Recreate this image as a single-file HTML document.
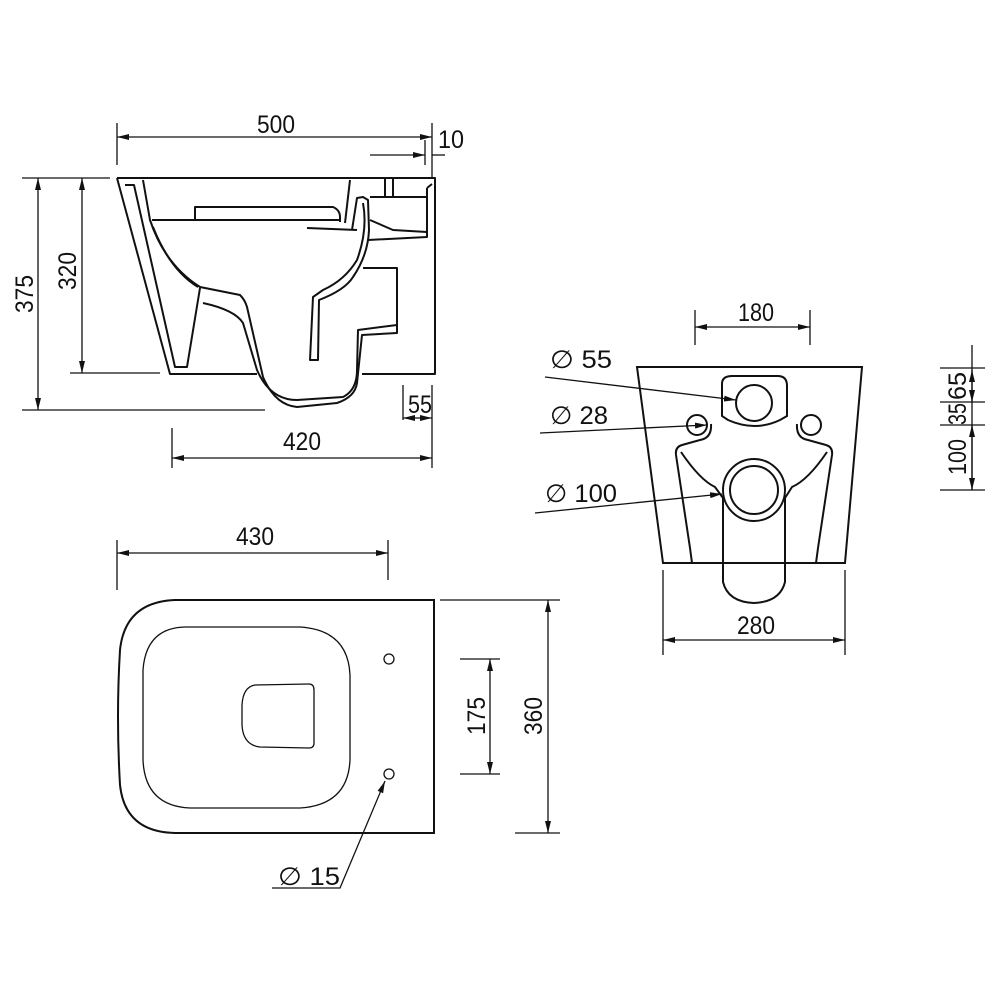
<!DOCTYPE html>
<html><head><meta charset="utf-8"><style>body{margin:0;background:#fff}svg{display:block}text{font-family:"Liberation Sans",sans-serif;font-size:25px;fill:#111}</style></head><body>
<svg width="1000" height="1000" viewBox="0 0 1000 1000" xmlns="http://www.w3.org/2000/svg">
<defs><marker id="a" markerWidth="12" markerHeight="6" refX="12" refY="3" orient="auto-start-reverse" markerUnits="userSpaceOnUse"><path d="M0,0L12,3L0,6z" fill="#111"/></marker></defs>
<g fill="none" stroke="#111" stroke-width="1.3">
<!-- side view dims -->
<line x1="117" y1="123" x2="117" y2="165"/><line x1="432" y1="123" x2="432" y2="178"/><line x1="425" y1="140" x2="425" y2="165"/>
<line x1="117" y1="137" x2="432" y2="137" marker-start="url(#a)" marker-end="url(#a)"/>
<line x1="370" y1="155" x2="425" y2="155" marker-end="url(#a)"/><line x1="445" y1="155" x2="432" y2="155"/>
<line x1="22" y1="178" x2="110" y2="178"/><line x1="22" y1="410" x2="265" y2="410"/><line x1="70" y1="373" x2="160" y2="373"/>
<line x1="38" y1="178" x2="38" y2="410" marker-start="url(#a)" marker-end="url(#a)"/>
<line x1="82" y1="178" x2="82" y2="373" marker-start="url(#a)" marker-end="url(#a)"/>
<line x1="172" y1="428" x2="172" y2="468"/><line x1="432" y1="385" x2="432" y2="468"/><line x1="403" y1="385" x2="403" y2="420"/>
<line x1="172" y1="458" x2="432" y2="458" marker-start="url(#a)" marker-end="url(#a)"/>
<line x1="403" y1="418" x2="432" y2="418" marker-start="url(#a)" marker-end="url(#a)"/>
<!-- side view body -->
<g stroke-width="2" stroke-linejoin="round">
<path d="M117,178 L435,178 L435,374 L362,374"/><path d="M257,374 L170,374 L117,178"/>
<path d="M125,185 L134,185 L175,367 L187,367 L200,288"/>
<path d="M143,180 L150,220 Q165,265 200,287 L240,295 Q245,300 247,307 L263,377 Q275,405 297,407 L337,403 Q355,397 357,383 L362,335 L397,333 L397,268 L363,268"/>
<path d="M203,303 Q235,310 243,323 L257,370 Q270,400 297,400 L343,397 Q357,390 357,370 L358,330 L397,325"/>
<path d="M153,227 Q170,270 198,287"/>
<path d="M363,203 Q368,230 357,260 Q345,280 323,290 L313,297 L310,360 L318,360 L319,300 Q345,290 353,277 Q368,255 369,230 L368,200 L363,197 L357,198 L352,230"/>
<path d="M152,220 L340,220"/>
<path d="M195,220 L195,207 L333,207 Q340,210 340,217 L340,222"/>
<path d="M307,228 L357,230"/>
<path d="M350,180 L345,223"/>
<path d="M385,178 L385,197"/><path d="M393,178 L393,197"/><path d="M370,197 L427,197"/>
<path d="M427,188 L427,237 L368,240"/><path d="M427,188 L432,184"/>
<path d="M370,220 L393,230 L427,232"/>
</g>
<!-- rear view -->
<line x1="695" y1="310" x2="695" y2="345"/><line x1="810" y1="310" x2="810" y2="345"/>
<line x1="695" y1="327" x2="810" y2="327" marker-start="url(#a)" marker-end="url(#a)"/>
<line x1="663" y1="570" x2="663" y2="655"/><line x1="845" y1="570" x2="845" y2="655"/>
<line x1="663" y1="640" x2="845" y2="640" marker-start="url(#a)" marker-end="url(#a)"/>
<line x1="972" y1="345" x2="972" y2="490"/>
<line x1="940" y1="368" x2="985" y2="368"/><line x1="940" y1="402" x2="985" y2="402"/><line x1="940" y1="425" x2="985" y2="425"/><line x1="940" y1="490" x2="985" y2="490"/>
<line x1="972" y1="370" x2="972" y2="402" marker-start="url(#a)" marker-end="url(#a)"/>
<line x1="972" y1="425" x2="972" y2="490" marker-start="url(#a)" marker-end="url(#a)"/>
<line x1="545" y1="377" x2="736" y2="400" marker-end="url(#a)"/>
<line x1="540" y1="433" x2="707" y2="425" marker-end="url(#a)"/>
<line x1="535" y1="513" x2="722" y2="494" marker-end="url(#a)"/>
<g stroke-width="2">
<path d="M637,367 L862,367 L845,563 L663,563 Z"/>
<path d="M722,384 Q722,376 732,376 L778,376 Q787,376 787,386 L787,416 L780,420 Q755,432 728,420 L722,416 Z"/>
<circle cx="754" cy="403" r="18"/><circle cx="697" cy="425" r="10"/><circle cx="811" cy="425" r="10"/>
<circle cx="754" cy="490" r="31"/><circle cx="754" cy="490" r="24"/>
<path d="M711,424 Q712,438 700,440 L682,445 Q675,447 676,455 L690,548 L692,563"/>
<path d="M681,452 Q700,480 715,487 L723,498 L723,582 Q728,602 754,603 Q780,602 785,582 L785,498 L792,487 Q808,480 827,452"/>
<path d="M797,424 Q796,438 808,440 L826,445 Q833,447 832,455 L818,548 L816,563"/>
</g>
<!-- top view -->
<line x1="117" y1="540" x2="117" y2="590"/><line x1="388" y1="540" x2="388" y2="580"/>
<line x1="117" y1="553" x2="388" y2="553" marker-start="url(#a)" marker-end="url(#a)"/>
<line x1="440" y1="600" x2="560" y2="600"/><line x1="515" y1="833" x2="560" y2="833"/>
<line x1="548" y1="600" x2="548" y2="833" marker-start="url(#a)" marker-end="url(#a)"/>
<line x1="460" y1="659" x2="500" y2="659"/><line x1="460" y1="774" x2="500" y2="774"/>
<line x1="490" y1="659" x2="490" y2="774" marker-start="url(#a)" marker-end="url(#a)"/>
<path d="M272,888 L340,888 L385,781" marker-end="url(#a)"/>
<path stroke-width="2" d="M434,600 L175,600 Q125,602 120,650 Q116,716 120,785 Q125,832 175,833 L434,833 Z"/>
<path d="M185,627 L300,627 Q348,630 350,675 L350,760 Q348,805 300,808 L190,808 Q145,806 143,760 L143,670 Q146,628 185,627 Z"/>
<path d="M255,685 L309,684 Q314,684 314,690 L314,743 Q314,748 309,748 L260,747 Q243,745 242,725 L242,705 Q243,687 255,685 Z"/>
<circle cx="389" cy="659" r="5"/><circle cx="389" cy="774" r="5"/>
</g>
<g>
<text x="257" y="133" textLength="38" lengthAdjust="spacingAndGlyphs">500</text>
<text x="438" y="148" textLength="26" lengthAdjust="spacingAndGlyphs">10</text>
<text x="408" y="413" textLength="24" lengthAdjust="spacingAndGlyphs">55</text>
<text x="283" y="450" textLength="38" lengthAdjust="spacingAndGlyphs">420</text>
<text x="236" y="545" textLength="38" lengthAdjust="spacingAndGlyphs">430</text>
<text x="738" y="321" textLength="36" lengthAdjust="spacingAndGlyphs">180</text>
<text x="737" y="634" textLength="38" lengthAdjust="spacingAndGlyphs">280</text>
<text x="550" y="368" textLength="62" lengthAdjust="spacingAndGlyphs">∅ 55</text>
<text x="550" y="424" textLength="58" lengthAdjust="spacingAndGlyphs">∅ 28</text>
<text x="545" y="502" textLength="72" lengthAdjust="spacingAndGlyphs">∅ 100</text>
<text x="278" y="885" textLength="62" lengthAdjust="spacingAndGlyphs">∅ 15</text>
<text transform="translate(33,313) rotate(-90)" textLength="38" lengthAdjust="spacingAndGlyphs">375</text>
<text transform="translate(76,290) rotate(-90)" textLength="38" lengthAdjust="spacingAndGlyphs">320</text>
<text transform="translate(542,735) rotate(-90)" textLength="38" lengthAdjust="spacingAndGlyphs">360</text>
<text transform="translate(485,735) rotate(-90)" textLength="38" lengthAdjust="spacingAndGlyphs">175</text>
<text transform="translate(966,400) rotate(-90)" textLength="28" lengthAdjust="spacingAndGlyphs">65</text>
<text transform="translate(966,425) rotate(-90)" textLength="22" lengthAdjust="spacingAndGlyphs">35</text>
<text transform="translate(966,475) rotate(-90)" textLength="36" lengthAdjust="spacingAndGlyphs">100</text>
</g>
</svg>
</body></html>
